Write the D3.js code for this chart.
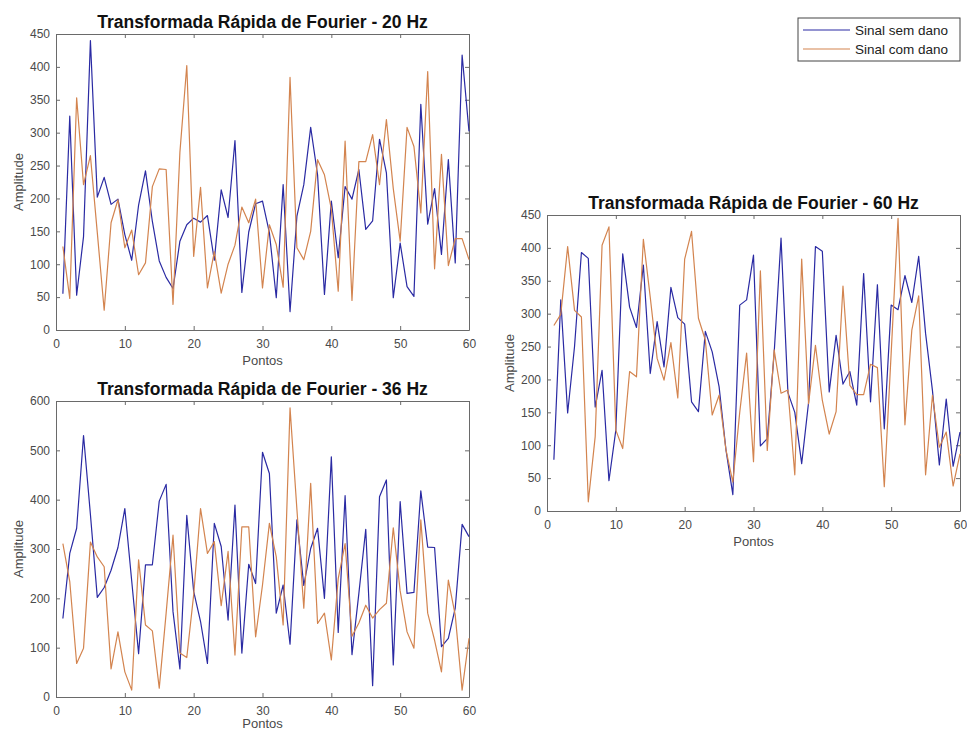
<!DOCTYPE html>
<html>
<head>
<meta charset="utf-8">
<script src="https://cdn.jsdelivr.net/npm/d3@7"></script>
<style>
  body { margin: 0; background: #fff; }
  svg { font-family: "Liberation Sans", Arial, sans-serif; }
  .axis path, .axis line { stroke: #6a6a6a; }
  .axis text { fill: #4a4a4a; font-size: 12px; }
  .panel-title { font-weight: bold; font-size: 17.5px; fill: #111; }
  .axis-label { font-size: 13px; fill: #4a4a4a; }
  .legend-text { font-size: 13.5px; fill: #222; }
</style>
</head>
<body>
<svg id="chart" width="967" height="731"></svg>
<script>
// x positions: points 1..60
const pontos = d3.range(1, 61);

// 20 Hz
const semDano20 = [55, 325, 53, 142, 440, 202, 232, 191, 199, 145, 106, 190, 242, 165, 105, 80, 63, 135, 160, 170,
  164, 174, 106, 213, 171, 288, 57, 149, 192, 196, 148, 49, 221, 28, 173, 221, 308, 236, 54, 196,
  110, 218, 199, 244, 153, 166, 290, 239, 49, 132, 66, 51, 343, 161, 215, 115, 259, 102, 418, 302];
const comDano20 = [127, 48, 353, 221, 265, 148, 30, 163, 198, 125, 152, 84, 102, 218, 245, 244, 39, 270, 402, 112,
  217, 64, 119, 56, 100, 129, 187, 163, 199, 64, 160, 130, 65, 384, 125, 107, 150, 259, 236, 184,
  59, 287, 45, 256, 256, 297, 221, 320, 215, 135, 308, 279, 178, 393, 93, 267, 98, 139, 139, 107];

// 36 Hz
const semDano36 = [159, 291, 342, 530, 370, 202, 222, 257, 303, 382, 235, 88, 268, 268, 397, 431, 173, 57, 368, 214,
  153, 68, 352, 305, 156, 389, 89, 269, 230, 496, 453, 170, 227, 107, 359, 226, 301, 342, 200, 487,
  131, 408, 86, 210, 340, 23, 406, 440, 65, 396, 210, 212, 418, 304, 303, 102, 119, 180, 350, 325];
const comDano36 = [311, 234, 68, 99, 314, 284, 264, 57, 132, 51, 14, 278, 146, 134, 18, 170, 328, 89, 80, 207,
  382, 291, 315, 185, 295, 85, 345, 345, 122, 227, 352, 284, 146, 586, 380, 180, 433, 149, 170, 75,
  240, 311, 123, 150, 186, 160, 177, 190, 343, 215, 132, 99, 359, 170, 115, 51, 237, 166, 14, 119];

// 60 Hz
const semDano60 = [78, 321, 149, 250, 393, 384, 158, 214, 46, 123, 391, 310, 279, 374, 209, 288, 219, 340, 294, 284,
  166, 151, 273, 242, 189, 93, 25, 313, 321, 389, 99, 110, 240, 415, 180, 150, 72, 165, 402, 395,
  181, 267, 193, 212, 161, 361, 166, 344, 125, 313, 306, 358, 317, 387, 270, 183, 70, 170, 68, 120];
const comDano60 = [282, 299, 402, 305, 295, 14, 113, 404, 432, 123, 95, 212, 204, 413, 325, 232, 199, 256, 172, 383,
  425, 293, 260, 146, 176, 93, 44, 150, 240, 75, 365, 92, 245, 179, 184, 55, 383, 163, 252, 168,
  117, 151, 342, 191, 177, 177, 223, 218, 37, 240, 445, 131, 275, 327, 55, 176, 97, 120, 38, 87];

const seriesNames = ['Sinal sem dano', 'Sinal com dano'];
const seriesColors = ['#2a2aa3', '#d3844f'];

class FftPanel {
  /**
   * @param {Object} _config
   * @param {Array[]} _series  one array of amplitudes per signal
   */
  constructor(_config, _series) {
    this.config = {
      parentElement: _config.parentElement,
      left: _config.left,
      top: _config.top,
      width: 413,
      height: 296,
      title: _config.title,
      yMax: _config.yMax,
      yStep: _config.yStep,
      tickLength: 4,
      // the bottom panel sits right on the page edge, so its label is pulled up a little
      xLabelOffset: _config.xLabelOffset || 35,
    };
    this.series = _series;
    this.initVis();
  }

  initVis() {
    const vis = this;
    const c = vis.config;

    vis.xScale = d3.scaleLinear().domain([0, 60]).range([0, c.width]);
    vis.yScale = d3.scaleLinear().domain([0, c.yMax]).range([c.height, 0]);

    vis.chart = d3.select(c.parentElement).append('g')
      .attr('transform', `translate(${c.left},${c.top})`);

    const xTicks = d3.range(0, 61, 10);
    const yTicks = d3.range(0, c.yMax + 1, c.yStep);

    // ticks point inward on all four sides, like the original figure
    vis.chart.append('g')
      .attr('class', 'axis x-axis')
      .attr('transform', `translate(0,${c.height})`)
      .call(d3.axisBottom(vis.xScale).tickValues(xTicks).tickSizeInner(-c.tickLength)
        .tickSizeOuter(0).tickPadding(9));
    vis.chart.append('g')
      .attr('class', 'axis')
      .call(d3.axisTop(vis.xScale).tickValues(xTicks).tickSizeInner(-c.tickLength)
        .tickSizeOuter(0).tickFormat(''));
    vis.chart.append('g')
      .attr('class', 'axis y-axis')
      .call(d3.axisLeft(vis.yScale).tickValues(yTicks).tickSizeInner(-c.tickLength)
        .tickSizeOuter(0).tickPadding(6));
    vis.chart.append('g')
      .attr('class', 'axis')
      .attr('transform', `translate(${c.width},0)`)
      .call(d3.axisRight(vis.yScale).tickValues(yTicks).tickSizeInner(-c.tickLength)
        .tickSizeOuter(0).tickFormat(''));

    vis.chart.append('text')
      .attr('class', 'panel-title')
      .attr('x', c.width / 2)
      .attr('y', -6)
      .attr('text-anchor', 'middle')
      .text(c.title);

    vis.chart.append('text')
      .attr('class', 'axis-label')
      .attr('x', c.width / 2)
      .attr('y', c.height + c.xLabelOffset)
      .attr('text-anchor', 'middle')
      .text('Pontos');

    vis.chart.append('text')
      .attr('class', 'axis-label')
      .attr('transform', `translate(-33,${c.height / 2}) rotate(-90)`)
      .attr('text-anchor', 'middle')
      .text('Amplitude');

    vis.renderVis();
  }

  renderVis() {
    const vis = this;
    const line = d3.line()
      .x((d) => vis.xScale(d[0]))
      .y((d) => vis.yScale(d[1]));

    vis.chart.selectAll('.fft-line')
      .data(vis.series)
      .join('path')
      .attr('class', 'fft-line')
      .attr('fill', 'none')
      .attr('stroke', (d, i) => seriesColors[i])
      .attr('stroke-width', 1.2)
      .attr('stroke-linejoin', 'round')
      .attr('d', (d) => line(d3.zip(pontos, d)));
  }
}

const svg = d3.select('#chart');

new FftPanel({ parentElement: '#chart', left: 56, top: 34, title: 'Transformada Rápida de Fourier - 20 Hz', yMax: 450, yStep: 50 },
  [semDano20, comDano20]);
new FftPanel({ parentElement: '#chart', left: 56, top: 401, title: 'Transformada Rápida de Fourier - 36 Hz', yMax: 600, yStep: 100, xLabelOffset: 31 },
  [semDano36, comDano36]);
new FftPanel({ parentElement: '#chart', left: 547, top: 215, title: 'Transformada Rápida de Fourier - 60 Hz', yMax: 450, yStep: 50 },
  [semDano60, comDano60]);

// legend (top right)
const legend = svg.append('g').attr('transform', 'translate(798,18)');
legend.append('rect')
  .attr('width', 162)
  .attr('height', 43)
  .attr('fill', '#fff')
  .attr('stroke', '#444')
  .attr('stroke-width', 1);
seriesNames.forEach((name, i) => {
  const y = 12 + i * 19;
  legend.append('line')
    .attr('x1', 5).attr('x2', 52)
    .attr('y1', y).attr('y2', y)
    .attr('stroke', seriesColors[i])
    .attr('stroke-width', 1.2);
  legend.append('text')
    .attr('class', 'legend-text')
    .attr('x', 57)
    .attr('y', y + 5)
    .text(name);
});
</script>
</body>
</html>
